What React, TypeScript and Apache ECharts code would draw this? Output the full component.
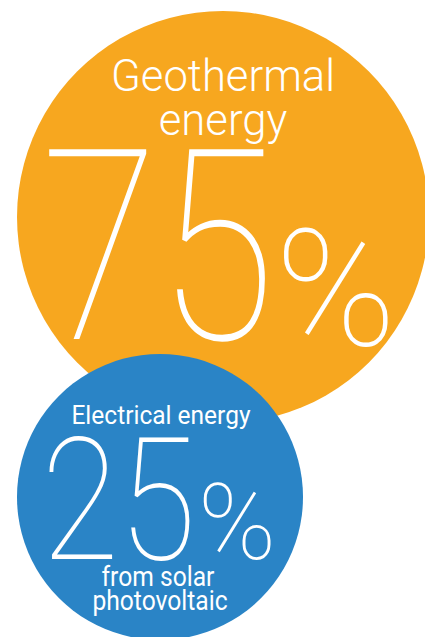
import React, { useEffect, useRef } from "react";
import * as echarts from "echarts";

const categories = ["Geothermal energy", "Electrical energy"];
const shares = [75, 25];
const topLabels = [["Geothermal", "energy"], ["Electrical energy"]];
const bottomLabels = [[], ["from solar", "photovoltaic"]];
const colors = ["#F7A71F", "#2A84C6"];

const FONT = "Roboto, 'Noto Sans', sans-serif";

export default function App() {
  const ref = useRef<HTMLDivElement>(null);
  useEffect(() => {
    if (!ref.current) return;
    const chart = echarts.init(ref.current, null, { renderer: "svg" });
    const txt = (
      text: string,
      x: number,
      y: number,
      size: number,
      weight: number,
      align: string,
      sx: number
    ) => ({
      type: "text",
      x,
      y,
      scaleX: sx,
      z: 10,
      style: {
        text,
        fill: "#ffffff",
        fontFamily: FONT,
        fontSize: size,
        fontWeight: weight,
        align,
        verticalAlign: "middle",
      },
    });
    const elements: any[] = [
      { type: "circle", shape: { cx: 223, cy: 217, r: 206 }, style: { fill: colors[0] }, z: 1 },
      txt(topLabels[0][0], 223, 76, 45, 300, "center", 0.97),
      txt(topLabels[0][1], 223, 120, 45, 300, "center", 0.97),
      txt(String(shares[0]), 275, 248, 267, 100, "right", 0.8),
      txt("%", 275, 289, 163, 100, "left", 1.0),
      { type: "circle", shape: { cx: 160, cy: 497, r: 143 }, style: { fill: colors[1] }, z: 5 },
      txt(topLabels[1][0], 161, 415, 25, 400, "center", 0.98),
      txt(String(shares[1]), 196, 501, 170, 100, "right", 0.83),
      txt("%", 198, 523, 105, 100, "left", 1.0),
      txt(bottomLabels[1][0], 158, 576, 28, 400, "center", 0.88),
      txt(bottomLabels[1][1], 160, 600, 28, 400, "center", 0.88),
    ];
    chart.setOption({
      animation: false,
      title: { show: false, text: categories.join(" / ") },
      graphic: { elements },
    });
    return () => chart.dispose();
  }, []);
  return (
    <div
      ref={ref}
      style={{ position: "fixed", left: 0, top: 0, width: 425, height: 637, background: "#ffffff" }}
    />
  );
}
